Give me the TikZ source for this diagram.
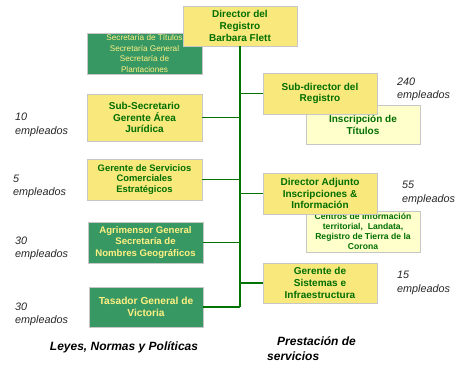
\documentclass[tikz,border=0pt]{standalone}
\usepackage{fontspec}
\setmainfont{Liberation Sans}
\usepackage{tikz}

\definecolor{boxyellow}{RGB}{249,232,124}
\definecolor{paleyellow}{RGB}{255,255,204}
\definecolor{boxgreen}{RGB}{56,152,100}
\definecolor{textgreen}{RGB}{0,110,0}
\definecolor{lightyellow}{RGB}{255,240,130}
\definecolor{linegreen}{RGB}{0,115,0}

\tikzset{
  box/.style={draw=black!22, line width=0.8pt, align=center, inner sep=1pt,
    font=\fontsize{10}{11.8}\selectfont\bfseries},
  mainbox/.style={box, fill=boxyellow, text=textgreen},
  subbox/.style={box, fill=paleyellow, text=textgreen},
  greenbox/.style={box, fill=boxgreen, text=lightyellow},
  conn/.style={draw=linegreen, line width=1.4pt},
  staff/.style={anchor=west, align=left, inner sep=0pt,
    font=\fontsize{10.8}{13.5}\selectfont\itshape, text=black!85},
}

\begin{document}
\begin{tikzpicture}[x=1pt,y=-1pt]
		\useasboundingbox (0,0) rectangle (460,364);

		% top
		\node[greenbox, minimum width=115pt, minimum height=41pt,
			font=\fontsize{8.2}{10.4}\selectfont] (sec) at (144.5,53.5)
			{Secretaría de Títulos\\Secretaría General\\Secretaría de\\Plantaciones};
		\node[mainbox, minimum width=114pt, minimum height=40pt] (dir) at (240,26)
			{Director del\\Registro\\Barbara Flett};

		% left column
		\node[mainbox, minimum width=115pt, minimum height=47pt] (subsec) at (144.5,117.5)
			{Sub-Secretario\\Gerente Área\\Jurídica};
		\node[mainbox, minimum width=115pt, minimum height=41pt,
			font=\fontsize{9.4}{10.7}\selectfont\bfseries] (gserv) at (144.5,179.5)
			{Gerente de Servicios\\Comerciales\\Estratégicos};
		\node[greenbox, minimum width=115pt, minimum height=41pt,
			font=\fontsize{9.6}{11.2}\selectfont\bfseries] (agrim) at (145.5,242.5)
			{Agrimensor General\\Secretaría de\\Nombres Geográficos};
		\node[greenbox, minimum width=114pt, minimum height=40pt,
			font=\fontsize{10.2}{12.5}\selectfont\bfseries] (tasa) at (146,307)
			{Tasador General de\\Victoria};

		% right column
		\node[subbox, minimum width=114pt, minimum height=39pt] (inscr) at (363,124.5)
			{\\[-4pt]Inscripción de\\Títulos};
		\node[mainbox, minimum width=114pt, minimum height=41pt] (subdir) at (320,93.5)
			{Sub-director del\\Registro};
		\node[subbox, minimum width=114pt, minimum height=41pt,
			font=\fontsize{8.6}{10}\selectfont\bfseries] (centros) at (363,231.5)
			{Centros de Información\\territorial,\ \ Landata,\\Registro de Tierra de la\\Corona};
		\node[mainbox, minimum width=114pt, minimum height=41pt] (diradj) at (320,193.5)
			{Director Adjunto\\Inscripciones \&\\Información};
		\node[mainbox, minimum width=114pt, minimum height=40pt] (gsis) at (320,283)
			{Gerente de\\Sistemas e\\Infraestructura};

		% lines
		\coordinate (bot) at (240,307);
		\draw[conn, line width=2pt] (dir.south) -- (bot);
		\foreach \n in {subsec,gserv,agrim,tasa}
			\draw[conn] (\n.east) -- (\n.east -| dir.south);
		\foreach \n in {subdir,diradj,gsis}
			\draw[conn] (\n.west) -- (\n.west -| dir.south);

		% staff numbers
		\node[staff] (s1) at (15,125) {10\\empleados};
		\node[staff] (s2) at (13,186.5) {5\\empleados};
		\node[staff] (s3) at (15,248.5) {30\\empleados};
		\node[staff] (s4) at (15,314.5) {30\\empleados};
		\node[staff] (s5) at (397,89.5) {240\\empleados};
		\node[staff] (s6) at (402,193) {55\\empleados};
		\node[staff] (s7) at (397,283) {15\\empleados};

		% footer
		\node[font=\fontsize{12}{15}\selectfont\bfseries\itshape, inner sep=0pt] (leyes) at (124,347)
			{Leyes, Normas y Políticas};
		\node[font=\fontsize{12}{15}\selectfont\bfseries\itshape, inner sep=0pt,
			anchor=west, align=left] (prest) at (267,348.5)
			{\hspace*{10pt}Prestación de\\servicios};
\end{tikzpicture}
\end{document}
